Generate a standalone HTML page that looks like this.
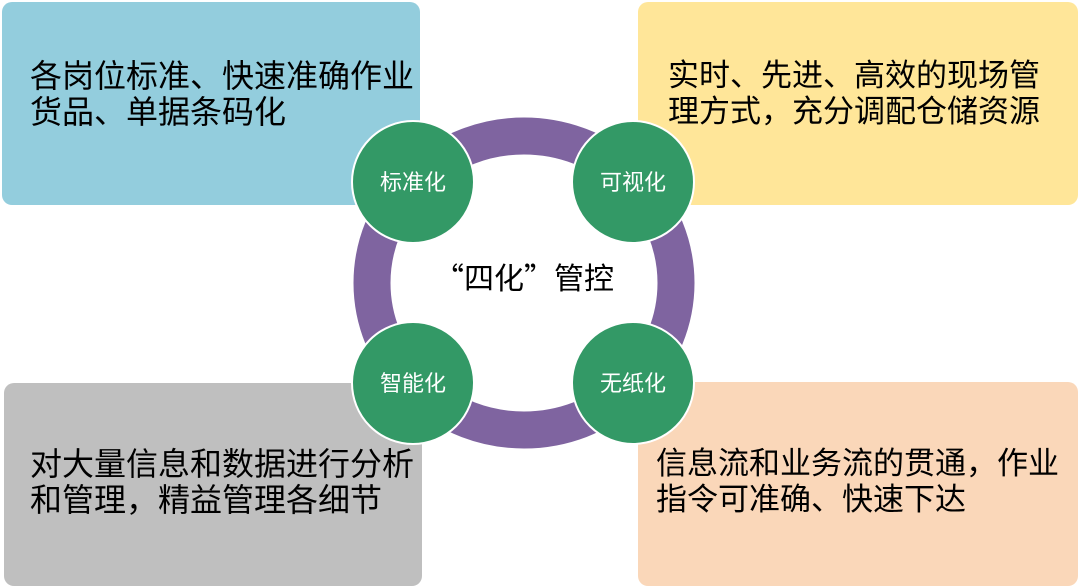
<!DOCTYPE html>
<html><head><meta charset="utf-8"><style>
body{margin:0;width:1080px;height:588px;background:#fff;position:relative;overflow:hidden;font-family:"Liberation Sans","Noto Sans CJK SC",sans-serif}
.b{position:absolute;border-radius:10px}
.t{position:absolute;font-size:32px;line-height:36px;color:#000;white-space:nowrap}
svg{position:absolute;left:0;top:0}
</style></head><body>
<div class="b" style="left:2px;top:2px;width:418px;height:203px;background:#93CDDD"></div>
<div class="b" style="left:638px;top:2px;width:440px;height:203px;background:#FFE699"></div>
<div class="b" style="left:4px;top:383px;width:418px;height:203px;background:#BFBFBF"></div>
<div class="b" style="left:638px;top:382px;width:440px;height:204px;background:#FAD7B9"></div>
<div class="t" style="left:30px;top:58px">各岗位标准、快速准确作业<br>货品、单据条码化</div>
<div class="t" style="left:668px;top:58px;font-size:31px">实时、先进、高效的现场管<br>理方式，充分调配仓储资源</div>
<div class="t" style="left:30px;top:446px">对大量信息和数据进行分析<br>和管理，精益管理各细节</div>
<div class="t" style="left:656px;top:446px;font-size:31px">信息流和业务流的贯通，作业<br>指令可准确、快速下达</div>
<svg width="1080" height="588">
<ellipse cx="524" cy="283" rx="152" ry="147" fill="#fff" stroke="#7F64A0" stroke-width="37"/>
<g fill="#339966" stroke="#fff" stroke-width="2">
<circle cx="413" cy="182" r="61"/><circle cx="633" cy="182" r="61"/>
<circle cx="413" cy="383" r="61"/><circle cx="633" cy="383" r="61"/>
</g>
<g fill="#fff" font-size="22" text-anchor="middle" font-family="Liberation Sans,Noto Sans CJK SC,sans-serif">
<text x="413" y="190">标准化</text><text x="633" y="190">可视化</text>
<text x="413" y="391">智能化</text><text x="633" y="391">无纸化</text>
</g>
<text x="524" y="289" font-size="30" text-anchor="middle" fill="#000" font-family="Noto Sans CJK SC,sans-serif">“四化”管控</text>
</svg>
</body></html>
